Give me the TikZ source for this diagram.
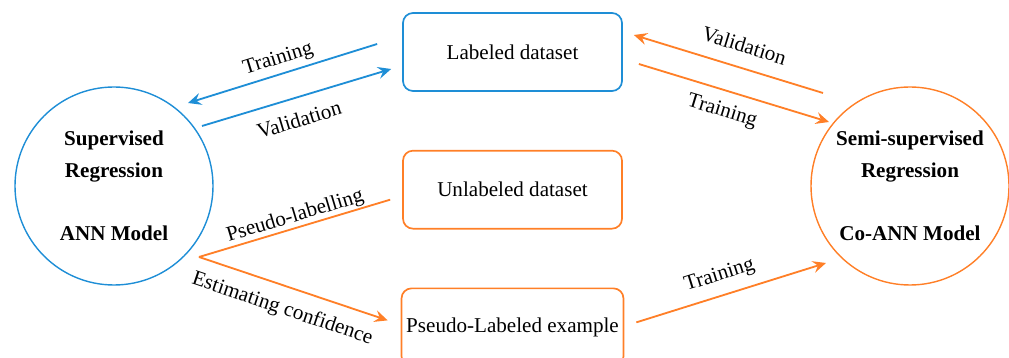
\documentclass[tikz,border=0pt]{standalone}
\usepackage{fontspec}
\setmainfont{Liberation Serif}
\usetikzlibrary{positioning,arrows.meta}

\definecolor{annblue}{RGB}{30,142,214}
\definecolor{coorange}{RGB}{255,127,39}

\begin{document}
\begin{tikzpicture}[
    font=\fontsize{15}{22.5}\selectfont,
    >={Stealth[length=3.3mm,width=3mm,inset=1.2mm]},
    model/.style={circle,draw,line width=1pt,minimum size=4.95cm,align=center,
      font=\fontsize{15}{22.5}\selectfont\bfseries},
    dataset/.style={rectangle,rounded corners=0.25cm,draw,line width=1.2pt,
      minimum width=5.475cm,minimum height=1.95cm},
    link/.style={line width=1.3pt},
    flowlabel/.style={sloped,text=black}
  ]
\useasboundingbox (0,0) rectangle (25.225,8.95);

% the two models
\node[model,draw=annblue] (ann) at (2.85,4.30) {Supervised\\ Regression\\[22.5pt] ANN Model};
\node[model,draw=coorange] (coann) at (22.75,4.30) {Semi-supervised\\ Regression\\[22.5pt] Co-ANN Model};

% data in the middle
\node[dataset,draw=annblue] (lab) at (12.8125,7.65) {Labeled dataset};
\node[dataset,draw=coorange,below=1.45cm of lab] (unl) {Unlabeled dataset};
\node[dataset,draw=coorange,below=1.45cm of unl] (pse) {Pseudo-Labeled example};

% supervised side
\draw[annblue,link,<-] ([shift={(1.85,2.075)}]ann.center)
  -- node[flowlabel,pos=0.5,above] {Training} ([shift={(-0.625,0.2)}]lab.west);
\draw[annblue,link,->] ([shift={(2.2,1.5)}]ann.center)
  -- node[flowlabel,pos=0.48,below=0.22cm] {Validation} ([shift={(-0.275,-0.425)}]lab.west);

% semi-supervised side
\draw[coorange,link,<-] ([shift={(0.275,0.425)}]lab.east)
  -- node[flowlabel,pos=0.55,above=0.23cm] {Validation} ([shift={(-2.175,2.325)}]coann.center);
\draw[coorange,link,->] ([shift={(0.4,-0.3)}]lab.east)
  -- node[flowlabel,pos=0.47,below=0.16cm] {Training} ([shift={(-2.025,1.6)}]coann.center);

% pseudo-labelling branch
\draw[coorange,link] ([shift={(2.125,-1.775)}]ann.center)
  -- node[flowlabel,pos=0.52,above=-0.1cm] {Pseudo-labelling} ([shift={(-0.3,-0.25)}]unl.west);
\draw[coorange,link,->] ([shift={(2.125,-1.775)}]ann.center)
  -- node[flowlabel,pos=0.48,below=0.19cm] {Estimating confidence} ([shift={(-0.325,0.175)}]pse.west);
\draw[coorange,link,->] ([shift={(0.3,0.125)}]pse.east)
  -- node[flowlabel,pos=0.47,above=0.12cm] {Training} ([shift={(-2.1,-1.925)}]coann.center);
\end{tikzpicture}
\end{document}
